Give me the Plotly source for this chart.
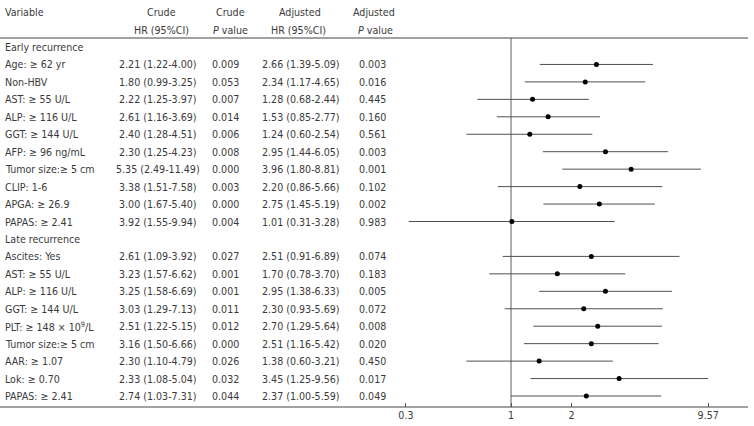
import plotly.graph_objects as go

# ---------------- data ----------------
early_vars = ["Age: ≥ 62 yr", "Non-HBV", "AST: ≥ 55 U/L", "ALP: ≥ 116 U/L", "GGT: ≥ 144 U/L",
              "AFP: ≥ 96 ng/mL", "Tumor size:≥ 5 cm", "CLIP: 1-6", "APGA: ≥ 26.9", "PAPAS: ≥ 2.41"]
early_crude_hr = [2.21, 1.80, 2.22, 2.61, 2.40, 2.30, 5.35, 3.38, 3.00, 3.92]
early_crude_lo = [1.22, 0.99, 1.25, 1.16, 1.28, 1.25, 2.49, 1.51, 1.67, 1.55]
early_crude_hi = [4.00, 3.25, 3.97, 3.69, 4.51, 4.23, 11.49, 7.58, 5.40, 9.94]
early_crude_p = ["0.009", "0.053", "0.007", "0.014", "0.006", "0.008", "0.000", "0.003", "0.000", "0.004"]
early_adj_hr = [2.66, 2.34, 1.28, 1.53, 1.24, 2.95, 3.96, 2.20, 2.75, 1.01]
early_adj_lo = [1.39, 1.17, 0.68, 0.85, 0.60, 1.44, 1.80, 0.86, 1.45, 0.31]
early_adj_hi = [5.09, 4.65, 2.44, 2.77, 2.54, 6.05, 8.81, 5.66, 5.19, 3.28]
early_adj_p = ["0.003", "0.016", "0.445", "0.160", "0.561", "0.003", "0.001", "0.102", "0.002", "0.983"]

late_vars = ["Ascites: Yes", "AST: ≥ 55 U/L", "ALP: ≥ 116 U/L", "GGT: ≥ 144 U/L",
             "PLT: ≥ 148 × 10<sup>9</sup>/L", "Tumor size:≥ 5 cm", "AAR: ≥ 1.07", "Lok: ≥ 0.70", "PAPAS: ≥ 2.41"]
late_crude_hr = [2.61, 3.23, 3.25, 3.03, 2.51, 3.16, 2.30, 2.33, 2.74]
late_crude_lo = [1.09, 1.57, 1.58, 1.29, 1.22, 1.50, 1.10, 1.08, 1.03]
late_crude_hi = [3.92, 6.62, 6.69, 7.13, 5.15, 6.66, 4.79, 5.04, 7.31]
late_crude_p = ["0.027", "0.001", "0.001", "0.011", "0.012", "0.000", "0.026", "0.032", "0.044"]
late_adj_hr = [2.51, 1.70, 2.95, 2.30, 2.70, 2.51, 1.38, 3.45, 2.37]
late_adj_lo = [0.91, 0.78, 1.38, 0.93, 1.29, 1.16, 0.60, 1.25, 1.00]
late_adj_hi = [6.89, 3.70, 6.33, 5.69, 5.64, 5.42, 3.21, 9.56, 5.59]
late_adj_p = ["0.074", "0.183", "0.005", "0.072", "0.008", "0.020", "0.450", "0.017", "0.049"]

group_labels = ["Early recurrence", "Late recurrence"]
tick_vals = [0.3, 1, 2, 9.57]
tick_text = ["0.3", "1", "2", "9.57"]

# ---------------- layout constants ----------------
W, H = 754, 426
FONT = "DejaVu Sans Condensed, DejaVu Sans, sans-serif"
TXT = "#3a3a3a"
FS = 10.6

def px(x):
    return x / W

COL_VAR, COL_CHR, COL_CP, COL_AHR, COL_AP = 3, 158, 225, 301, 372

groups = [
    (group_labels[0], early_vars, early_crude_hr, early_crude_lo, early_crude_hi, early_crude_p,
     early_adj_hr, early_adj_lo, early_adj_hi, early_adj_p),
    (group_labels[1], late_vars, late_crude_hr, late_crude_lo, late_crude_hi, late_crude_p,
     late_adj_hr, late_adj_lo, late_adj_hi, late_adj_p),
]
annotations = []

def add_text(x, yy, text, anchor="center"):
    annotations.append(dict(x=px(x), y=yy, xref="paper", yref="y", text=text, showarrow=False,
                            xanchor=anchor, yanchor="middle",
                            font=dict(family=FONT, size=FS, color=TXT)))

# header
add_text(COL_VAR, -2, "Variable", "left")
add_text(COL_CHR + 3, -2, "Crude")
add_text(COL_CP + 5, -2, "Crude")
add_text(COL_AHR - 1, -2, "Adjusted")
add_text(COL_AP + 2, -2, "Adjusted")
add_text(COL_CHR + 3, -1, "HR (95%CI)")
add_text(COL_CP + 5, -1, "<i>P</i> value")
add_text(COL_AHR - 3, -1, "HR (95%CI)")
add_text(COL_AP + 3, -1, "<i>P</i> value")

y = 0
pts_x, pts_y, line_x, line_y = [], [], [], []
for (glab, vars_, chr_, clo, chi, cp, ahr, alo, ahi, ap) in groups:
    add_text(COL_VAR, y, glab, "left")
    y += 1
    for i in range(len(vars_)):
        add_text(COL_VAR, y, vars_[i], "left")
        add_text(COL_CHR, y, f"{chr_[i]:.2f} ({clo[i]:.2f}-{chi[i]:.2f})")
        add_text(COL_CP, y, cp[i])
        add_text(COL_AHR, y, f"{ahr[i]:.2f} ({alo[i]:.2f}-{ahi[i]:.2f})")
        add_text(COL_AP, y, ap[i])
        pts_x.append(ahr[i]); pts_y.append(y)
        line_x += [alo[i], ahi[i], None]; line_y += [y, y, None]
        y += 1

fig = go.Figure()
fig.add_trace(go.Scatter(x=line_x, y=line_y, mode="lines",
                         line=dict(color="#505050", width=1), hoverinfo="skip", showlegend=False))
fig.add_trace(go.Scatter(x=pts_x, y=pts_y, mode="markers",
                         marker=dict(color="black", size=5, symbol="circle"), showlegend=False))

# pixel geometry
TOP_LINE_PX = 38
AXIS_PX = 407
ROW0_PX = 47
ROW_STEP = 17.45
y_top = (0 - ROW0_PX) / ROW_STEP
y_bot = (AXIS_PX - ROW0_PX) / ROW_STEP
y_topline = (TOP_LINE_PX - ROW0_PX) / ROW_STEP

fig.update_layout(
    width=W, height=H,
    margin=dict(l=0, r=0, t=0, b=H - AXIS_PX),
    plot_bgcolor="white", paper_bgcolor="white",
    annotations=annotations,
    xaxis=dict(type="log", domain=[px(390), px(748)], range=[-0.602, 1.179],
               tickvals=tick_vals, ticktext=tick_text, ticks="inside", ticklen=4,
               tickcolor="#555", showgrid=False, zeroline=False, showline=False,
               tickfont=dict(family=FONT, size=FS, color=TXT)),
    yaxis=dict(range=[y_bot, y_top], visible=False, showgrid=False, zeroline=False),
    shapes=[
        dict(type="line", xref="paper", yref="y", x0=0, x1=px(748), y0=y_topline, y1=y_topline,
             line=dict(color="#444", width=1.2)),
        dict(type="line", xref="paper", yref="paper", x0=0, x1=px(748), y0=0, y1=0,
             line=dict(color="#444", width=1.2)),
        dict(type="line", xref="x", yref="y", x0=1, x1=1, y0=y_topline, y1=y_bot,
             line=dict(color="#777", width=1.2), layer="below"),
    ],
)

fig.write_html("out.html", config={"displayModeBar": False},
               post_script="document.body.style.margin='0';document.body.style.padding='0';")
